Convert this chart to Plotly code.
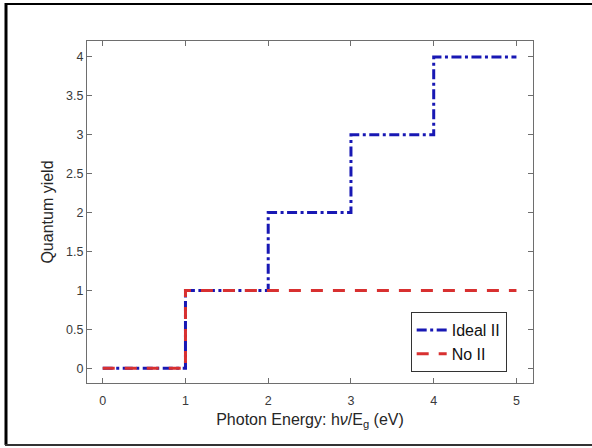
import plotly.graph_objects as go

energy = [0, 1, 2, 3, 4, 5]
ideal_ii = [0, 1, 2, 3, 4, 4]
no_ii = [0, 1, 1, 1, 1, 1]
x_ticks = [0, 1, 2, 3, 4, 5]
y_ticks = [0, 0.5, 1, 1.5, 2, 2.5, 3, 3.5, 4]
y_tick_labels = ["0", "0.5", "1", "1.5", "2", "2.5", "3", "3.5", "4"]

L, R, T, B = 87, 533, 41, 383
W, H = 592, 448
pw, ph = R - L, B - T

def px(x):
    return (x - L) / pw

def py(y):
    return (B - y) / ph

fig = go.Figure()
fig.add_trace(go.Scatter(x=energy, y=ideal_ii, mode="lines", name="Ideal II",
                         line=dict(color="#1818b4", width=3, dash="10px,3.5px,3px,3.5px", shape="hv")))
fig.add_trace(go.Scatter(x=energy, y=no_ii, mode="lines", name="No II",
                         line=dict(color="#d83030", width=3, dash="12px,10px", shape="hv")))

tickfont = dict(size=12.5, color="#3a3a3a", family="Liberation Sans, Arial, sans-serif")
axis_common = dict(showgrid=False, zeroline=False, showline=True, linecolor="#6e6e6e",
                   linewidth=1, mirror="ticks", ticks="inside", ticklen=5,
                   tickcolor="#6e6e6e", tickfont=tickfont, automargin=False)

fig.update_xaxes(range=[-0.19, 5.2], tickvals=x_ticks, ticklabelstandoff=6, **axis_common,
                 title=dict(text="Photon Energy: h<i>ν</i>/E<sub>g</sub> (eV)",
                            font=dict(size=16, color="#262626"), standoff=6))
fig.update_yaxes(range=[-0.19, 4.205], tickvals=y_ticks, ticktext=y_tick_labels, **axis_common,
                 title=dict(text="Quantum yield", font=dict(size=16, color="#262626"), standoff=8))

shapes = [
    dict(type="line", xref="paper", yref="paper", x0=px(6), x1=px(6), y0=py(3), y1=py(445),
         line=dict(color="black", width=3)),
    dict(type="line", xref="paper", yref="paper", x0=px(5), x1=px(592), y0=py(4), y1=py(4),
         line=dict(color="black", width=2)),
    dict(type="line", xref="paper", yref="paper", x0=px(5), x1=px(592), y0=py(445), y1=py(445),
         line=dict(color="#333333", width=2)),
]

fig.update_layout(
    width=W, height=H,
    margin=dict(l=L, r=W - R, t=T, b=H - B),
    paper_bgcolor="white", plot_bgcolor="white",
    font=dict(family="Liberation Sans, Arial, sans-serif", color="#262626"),
    shapes=shapes,
    legend=dict(x=0.941, y=0.032, xanchor="right", yanchor="bottom",
                bordercolor="#333333", borderwidth=1, bgcolor="white",
                font=dict(size=16, color="#111111"), tracegroupgap=0),
)

fig.write_html("out.html", config={"displayModeBar": False},
               post_script="document.body.style.margin='0';document.body.style.overflow='hidden';")
